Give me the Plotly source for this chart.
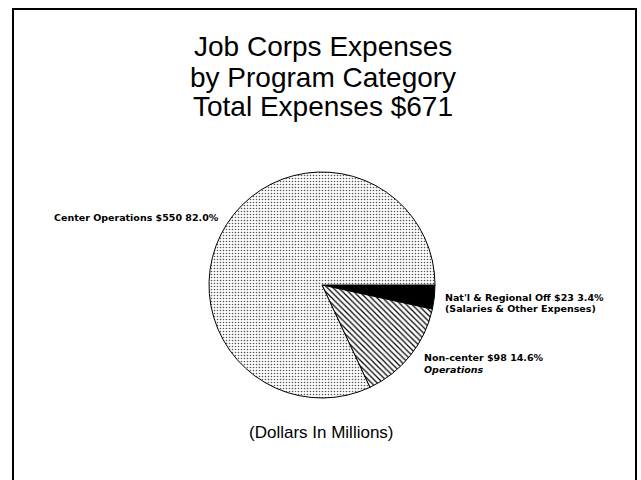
import plotly.graph_objects as go

categories = ["Nat'l & Regional Off", "Non-center", "Center Operations"]
values = [23, 98, 550]
percents = [3.4, 14.6, 82.0]
sublabels = ["(Salaries & Other Expenses)", "Operations", ""]
title_lines = ["Job Corps Expenses", "by Program Category", "Total Expenses $671"]
footnote = "(Dollars In Millions)"

W, H = 641, 480

def px(x):
    return x / W

def py(y):
    return 1 - y / H

fig = go.Figure()
fig.add_trace(go.Pie(
    labels=categories,
    values=values,
    sort=False,
    direction="clockwise",
    rotation=90,
    textinfo="none",
    hoverinfo="label+value+percent",
    showlegend=False,
    marker=dict(
        colors=["black", "black", "#555555"],
        line=dict(color="black", width=1),
        pattern=dict(
            shape=["", "\\", "."],
            bgcolor="white",
            size=[6, 4, 3],
            solidity=[0.5, 0.3, 0.22],
        ),
    ),
    domain=dict(x=[px(209), px(435)], y=[py(398), py(172)]),
))

annotations = []
title_font = dict(family="Liberation Sans, Arial", size=28, color="black")
for line, yc in zip(title_lines, [47, 77, 106]):
    annotations.append(dict(
        text=line, x=px(323), y=py(yc), xref="paper", yref="paper",
        xanchor="center", yanchor="middle", showarrow=False,
        font=title_font,
    ))
lbl_font = dict(family="DejaVu Sans", size=9.5, color="black")
# Center operations label
annotations.append(dict(
    text=f"<b>{categories[2]} ${values[2]} {percents[2]:.1f}%</b>",
    x=px(52), y=py(217), xref="paper", yref="paper", xanchor="left", yanchor="middle",
    showarrow=False, font=lbl_font,
))
# Nat'l label
annotations.append(dict(
    text=f"<b>{categories[0]} ${values[0]} {percents[0]:.1f}%</b>",
    x=px(443), y=py(297), xref="paper", yref="paper", xanchor="left", yanchor="middle",
    showarrow=False, font=lbl_font,
))
annotations.append(dict(
    text=f"<b>{sublabels[0]}</b>",
    x=px(443), y=py(308), xref="paper", yref="paper", xanchor="left", yanchor="middle",
    showarrow=False, font=lbl_font,
))
# Non-center label
annotations.append(dict(
    text=f"<b>{categories[1]} ${values[1]} {percents[1]:.1f}%</b>",
    x=px(422), y=py(357), xref="paper", yref="paper", xanchor="left", yanchor="middle",
    showarrow=False, font=lbl_font,
))
annotations.append(dict(
    text=f"<b><i>{sublabels[1]}</i></b>",
    x=px(422), y=py(369), xref="paper", yref="paper", xanchor="left", yanchor="middle",
    showarrow=False, font=lbl_font,
))
# footnote
annotations.append(dict(
    text=footnote, x=px(322), y=py(432), xref="paper", yref="paper",
    xanchor="center", yanchor="middle", showarrow=False,
    font=dict(family="Liberation Sans, Arial", size=17, color="black"),
))

fig.update_layout(
    width=W, height=H,
    margin=dict(l=0, r=0, t=0, b=0),
    paper_bgcolor="white", plot_bgcolor="white",
    annotations=annotations,
    shapes=[dict(type="rect", xref="paper", yref="paper",
                 x0=px(13), x1=px(636), y0=py(482), y1=py(9),
                 line=dict(color="black", width=2), fillcolor="rgba(0,0,0,0)")],
)

fig.write_html("out.html", config={"displayModeBar": False},
               post_script="document.body.style.margin='0';")
